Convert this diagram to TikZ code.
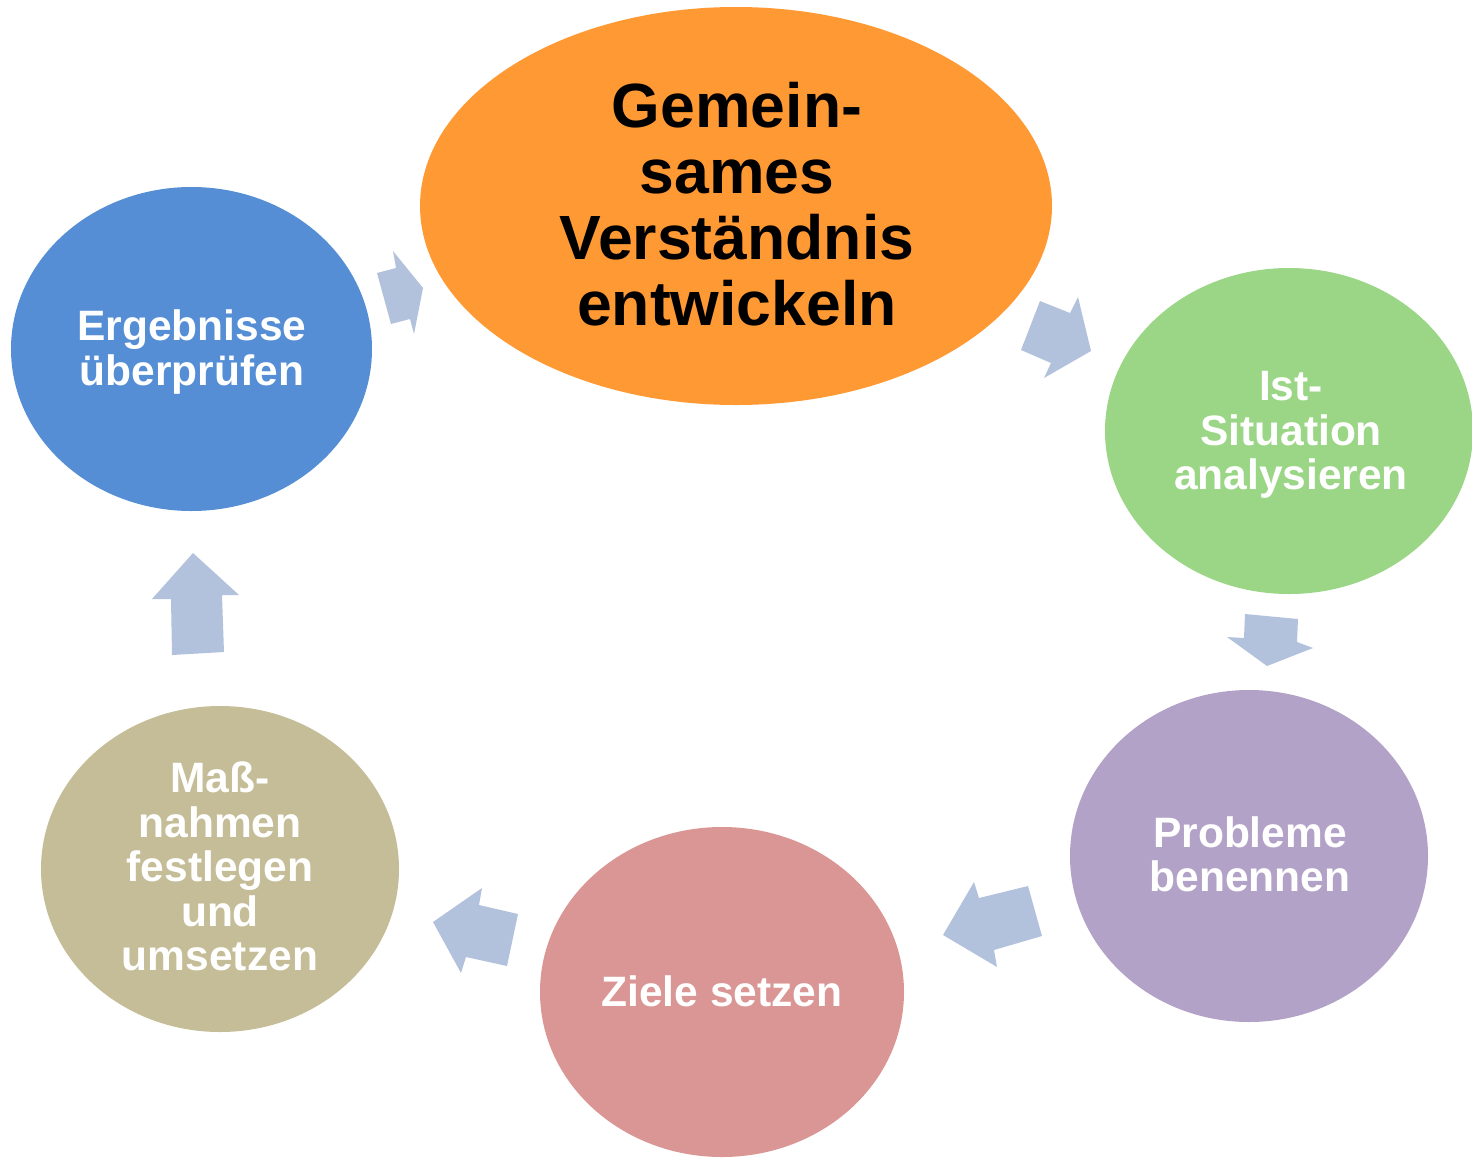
\documentclass[tikz,border=0pt]{standalone}
\usepackage{fontspec}
\setmainfont{Liberation Sans}
\usetikzlibrary{shapes.geometric}
\definecolor{cOrange}{HTML}{FF9933}
\definecolor{cGreen}{HTML}{9AD685}
\definecolor{cPurple}{HTML}{B3A2C7}
\definecolor{cPink}{HTML}{D99694}
\definecolor{cTan}{HTML}{C4BD97}
\definecolor{cBlue}{HTML}{558ED5}
\definecolor{cArrow}{HTML}{B3C2DC}
\tikzset{
  blob/.style={ellipse, draw=none, inner sep=0pt},
  bigtxt/.style={align=center, inner sep=0pt, text=black, font=\bfseries\fontsize{62.5}{66}\selectfont},
  smalltxt/.style={align=center, inner sep=0pt, text=white, font=\bfseries\fontsize{42.5}{44.5}\selectfont},
  blockarrow/.style={fill=cArrow, draw=none}
}
\begin{document}
\begin{tikzpicture}[x=1pt,y=-1pt]
\useasboundingbox (0,0) rectangle (1472,1157);
% block arrows
\filldraw[blockarrow] (1040,301) -- (1070,313) -- (1078,297) -- (1091,351) -- (1044,378) -- (1051,363) -- (1021,350) -- cycle;
\filldraw[blockarrow] (1245,614) -- (1298,619) -- (1297,642) -- (1313,648) -- (1267,666) -- (1227,637) -- (1244,638) -- cycle;
\filldraw[blockarrow] (1028,886) -- (1042,936) -- (994,950) -- (997,967) -- (943,935) -- (974,882) -- (979,898) -- cycle;
\filldraw[blockarrow] (482,888) -- (479,905) -- (518,914) -- (507,966) -- (466,957) -- (461,973) -- (433,922) -- cycle;
\filldraw[blockarrow] (193,553) -- (239,595) -- (222,595) -- (224,652) -- (172,655) -- (171,599) -- (152,599) -- cycle;
\filldraw[blockarrow] (393,251) -- (396,268) -- (377,273) -- (391,324) -- (410,319) -- (414,334) -- (423,288) -- cycle;
% ellipses
\node[blob, fill=cOrange, minimum width=632pt, minimum height=398pt] (e1) at (736,206) {};
\node[blob, fill=cGreen, minimum width=368pt, minimum height=326pt] (e2) at (1289,431) {};
\node[blob, fill=cPurple, minimum width=358pt, minimum height=332pt] (e3) at (1249,856) {};
\node[blob, fill=cPink, minimum width=364pt, minimum height=330pt] (e4) at (722,992) {};
\node[blob, fill=cTan, minimum width=358pt, minimum height=326pt] (e5) at (220,869) {};
\node[blob, fill=cBlue, minimum width=361pt, minimum height=324pt] (e6) at (191.5,349) {};
% texts
\node[bigtxt] (t1) at (737,204) {Gemein-\\sames\\Verständnis\\entwickeln};
\node[smalltxt] (t2) at (1291,435) {Ist-\\Situation\\analysieren};
\node[smalltxt] (t3) at (1250,854.5) {Probleme\\benennen};
\node[smalltxt] (t4) at (722,991) {Ziele setzen};
\node[smalltxt] (t5) at (220,866.5) {Maß-\\nahmen\\festlegen\\und\\umsetzen};
\node[smalltxt] (t6) at (192,352) {Ergebnisse\\überprüfen};
\end{tikzpicture}
\end{document}
